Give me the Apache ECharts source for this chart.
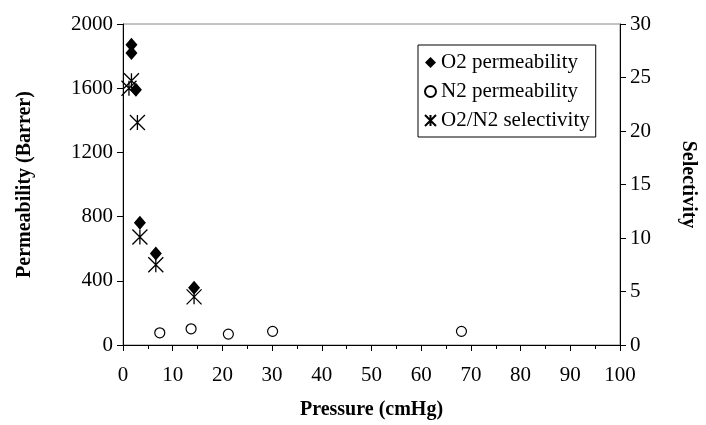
<!DOCTYPE html>
<html>
<head>
<meta charset="utf-8">
<script src="https://cdn.jsdelivr.net/npm/echarts@6/dist/echarts.min.js"></script>
<style>
html, body { margin: 0; padding: 0; background: #fff; }
#main { width: 706px; height: 425px; }
</style>
</head>
<body>
<div id="main"></div>
<script>
// data
var o2Pressure = [1.7, 1.7, 2.6, 3.4, 6.6, 14.3];
var o2Perm = [1870, 1819, 1590, 762, 570, 357];
var n2Pressure = [7.4, 13.7, 21.2, 30.1, 68.1];
var n2Perm = [76, 101, 68, 85, 85];
var selPressure = [1.7, 1.2, 2.9, 3.4, 6.6, 14.3];
var selectivity = [24.7, 24.0, 20.8, 10.1, 7.5, 4.5];

var seriesNames = ['O2 permeability', 'N2 permeability', 'O2/N2 selectivity'];

function pairs(xs, ys) {
    var out = [];
    for (var i = 0; i < xs.length; i++) out.push([xs[i], ys[i]]);
    return out;
}
function plain(v) { return String(v); }

var font = 'Liberation Serif';
var asterisk = 'path://M0,0L10,10M10,0L0,10M5,0L5,10';

var myChart = echarts.init(document.getElementById('main'));
myChart.setOption({
    animation: false,
    textStyle: { fontFamily: font, color: '#000' },
    grid: {
        left: 123, right: 85, top: 24, bottom: 78,
        show: true, borderColor: '#888', borderWidth: 1
    },
    legend: {
        orient: 'vertical',
        left: 418, top: 45,
        padding: [7, 6, 6, 6],
        itemGap: 8,
        itemWidth: 11, itemHeight: 11,
        borderColor: '#000', borderWidth: 1,
        textStyle: { fontFamily: font, fontSize: 21, color: '#000' },
        data: seriesNames
    },
    xAxis: {
        type: 'value', min: 0, max: 100, interval: 10,
        name: 'Pressure (cmHg)', nameLocation: 'middle', nameGap: 55,
        nameTextStyle: { fontFamily: font, fontSize: 20, fontWeight: 'bold', color: '#000' },
        axisLine: { onZero: false, lineStyle: { color: '#000', width: 1 } },
        axisTick: { length: 6, lineStyle: { color: '#000' } },
        minorTick: { show: true, splitNumber: 2, length: 4, lineStyle: { color: '#000' } },
        axisLabel: { fontFamily: font, fontSize: 21, color: '#000', margin: 20, formatter: plain },
        splitLine: { show: false }
    },
    yAxis: [{
        type: 'value', min: 0, max: 2000, interval: 400,
        name: 'Permeability (Barrer)', nameLocation: 'middle', nameGap: 88,
        nameTextStyle: { fontFamily: font, fontSize: 20, fontWeight: 'bold', color: '#000' },
        axisLine: { show: true, lineStyle: { color: '#000', width: 1 } },
        axisTick: { show: true, length: 6, lineStyle: { color: '#000' } },
        axisLabel: { fontFamily: font, fontSize: 21, color: '#000', margin: 10, formatter: plain },
        splitLine: { show: false }
    }, {
        type: 'value', min: 0, max: 30, interval: 5, position: 'right',
        name: 'Selectivity', nameLocation: 'middle', nameGap: 58, nameRotate: -90,
        nameTextStyle: { fontFamily: font, fontSize: 20, fontWeight: 'bold', color: '#000' },
        axisLine: { show: true, lineStyle: { color: '#000', width: 1 } },
        axisTick: { show: true, length: 6, lineStyle: { color: '#000' } },
        axisLabel: { fontFamily: font, fontSize: 21, color: '#000', margin: 10, formatter: plain },
        splitLine: { show: false }
    }],
    series: [{
        name: seriesNames[0], type: 'scatter', yAxisIndex: 0,
        symbol: 'diamond', symbolSize: [12, 14],
        itemStyle: { color: '#000', opacity: 1 },
        data: pairs(o2Pressure, o2Perm)
    }, {
        name: seriesNames[1], type: 'scatter', yAxisIndex: 0,
        symbol: 'circle', symbolSize: 10,
        itemStyle: { color: '#fff', borderColor: '#000', borderWidth: 1.2, opacity: 1 },
        data: pairs(n2Pressure, n2Perm)
    }, {
        name: seriesNames[2], type: 'scatter', yAxisIndex: 1,
        symbol: asterisk, symbolSize: 15,
        itemStyle: { color: 'transparent', borderColor: '#000', borderWidth: 1.3, opacity: 1 },
        data: pairs(selPressure, selectivity)
    }]
});
</script>
</body>
</html>
